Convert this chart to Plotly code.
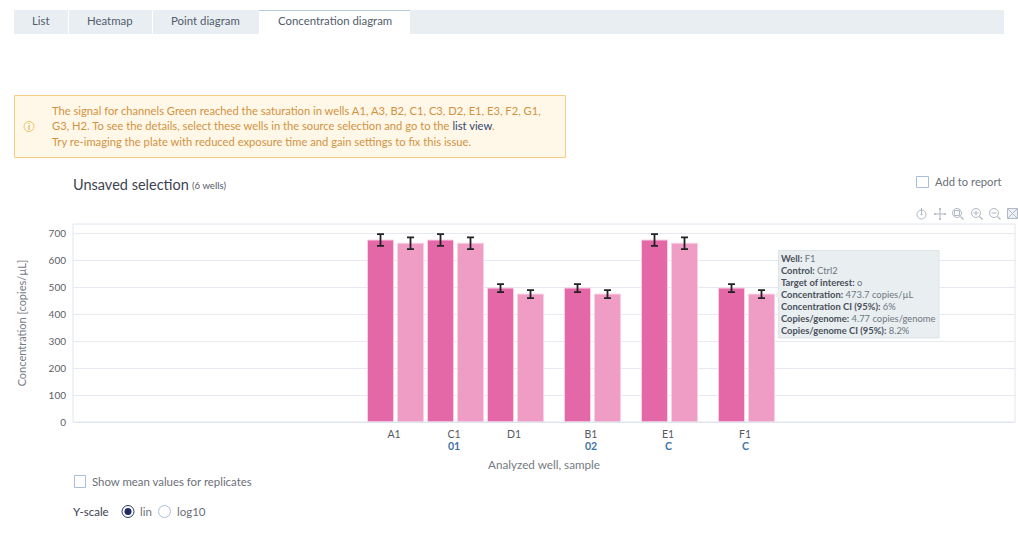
import plotly.graph_objects as go

# ---- data ----
wells = ["A1", "C1", "D1", "B1", "E1", "F1"]
samples = ["", "01", "", "02", "C", "C"]
dark_values = [674, 674, 496, 496, 674, 496]
light_values = [662, 662, 473.7, 473.7, 662, 473.7]
dark_errors = [22, 22, 15, 15, 22, 15]
light_errors = [22, 22, 15, 15, 22, 15]
y_ticks = [0, 100, 200, 300, 400, 500, 600, 700]
# step between neighbouring wells, in px (first three are packed, the others are separated)
well_steps = [0, 60, 60, 77, 77, 77]

W, H = 1018, 534
FONT = "Lato"
DARK, LIGHT = "#E468A8", "#EF9DC4"
EDGE = "#F9CFE2"
GRID = "#E6E8F3"
TXT = "#6B7078"
BLUE = "#3F73A8"
L, R, T, B = 73, 1015, 224, 422
X0 = 395

def fx(x): return x / W
def fy(y): return 1 - y / H

centers = []
c = X0
for s in well_steps:
    c += s
    centers.append(c)
label_pos = [c - 1 for c in centers]

fig = go.Figure()
fig.add_bar(x=centers, y=dark_values, name="Channel 1", width=26, offset=-27.5,
            marker=dict(color=DARK, line=dict(color=EDGE, width=1)),
            error_y=dict(type="data", array=dark_errors, color="#222222", thickness=1.8, width=3.5))
fig.add_bar(x=centers, y=light_values, name="Channel 2", width=26, offset=2.5,
            marker=dict(color=LIGHT, line=dict(color=EDGE, width=1)),
            error_y=dict(type="data", array=light_errors, color="#222222", thickness=1.8, width=3.5))

shapes = []
annos = []

def rect(x0, y0, x1, y1, fill="rgba(0,0,0,0)", line=None, lw=1):
    shapes.append(dict(type="rect", xref="paper", yref="paper", x0=fx(x0), x1=fx(x1), y0=fy(y1), y1=fy(y0),
                       fillcolor=fill, line=dict(color=line or "rgba(0,0,0,0)", width=lw if line else 0),
                       layer="above"))

def circle(cx, cy, r, fill="rgba(0,0,0,0)", line=None, lw=1):
    shapes.append(dict(type="circle", xref="paper", yref="paper", x0=fx(cx - r), x1=fx(cx + r), y0=fy(cy + r), y1=fy(cy - r),
                       fillcolor=fill, line=dict(color=line or "rgba(0,0,0,0)", width=lw if line else 0),
                       layer="above"))

def seg(x0, y0, x1, y1, color="#AEB6C2", lw=1):
    shapes.append(dict(type="line", xref="paper", yref="paper", x0=fx(x0), x1=fx(x1), y0=fy(y0), y1=fy(y1),
                       line=dict(color=color, width=lw), layer="above"))

def text(x, y, s, size=11, color=TXT, anchor="left", angle=0):
    annos.append(dict(xref="paper", yref="paper", x=fx(x), y=fy(y), text=s, showarrow=False, xanchor=anchor,
                      yanchor="middle", font=dict(family=FONT, size=size, color=color), textangle=angle,
                      borderpad=0, borderwidth=0))

# sample names under the well ticks, placed through the x axis
for pos, s in zip(label_pos, samples):
    if s:
        annos.append(dict(xref="x", yref="paper", x=pos, y=fy(446), text=f"<b>{s}</b>", showarrow=False,
                          xanchor="center", yanchor="middle", borderpad=0,
                          font=dict(family=FONT, size=10.5, color=BLUE)))

# tabs
TAB = "#E9EEF3"
rect(14, 10, 1004, 34, fill=TAB)
rect(68, 10, 69, 34, fill="#FFFFFF")
rect(152, 10, 153, 34, fill="#FFFFFF")
rect(259, 10, 410, 34, fill="#FFFFFF")
rect(259, 10, 410, 11, fill="#B4C9DA")
text(41, 20.5, "List", color="#525C6B", anchor="center", size=11.4)
text(110, 20.5, "Heatmap", color="#525C6B", anchor="center", size=11.4)
text(205, 20.5, "Point diagram", color="#525C6B", anchor="center", size=11.4)
text(334.5, 20.5, "Concentration diagram", color="#525C6B", anchor="center", size=11.4)

# warning
WARN = "#D2923F"
rect(14.5, 95.5, 565.5, 157.5, fill="#FFF8E9", line="#F5CE85", lw=1)
circle(29, 126.5, 5, line="#F0C066", lw=1)
seg(29, 125, 29, 130, color="#E0A040", lw=1)
seg(29, 123, 29, 124, color="#E0A040", lw=1)
text(52, 110.5, "The signal for channels Green reached the saturation in wells A1, A3, B2, C1, C3, D2, E1, E3, F2, G1,", color=WARN, size=11.2)
text(52, 125.5, f"G3, H2. To see the details, select these wells in the source selection and go to the <span style='color:#34466E'>list view</span>.", color=WARN, size=11.2)
text(52, 141, "Try re-imaging the plate with reduced exposure time and gain settings to fix this issue.", color=WARN, size=11.2)

# heading
text(73, 184.5, "Unsaved selection", size=14.5, color="#3C4350")
text(192, 185.5, "(6 wells)", size=9.6, color="#555B66")
rect(916.5, 176.5, 928.5, 187.5, fill="#FFFFFF", line="#A9BEDD", lw=1)
text(935, 182, "Add to report", size=11.2, color=TXT)

# toolbar icons
IC = "#B0B8C4"
circle(921.5, 214.5, 4.5, line=IC)
seg(921.5, 208, 921.5, 214, color=IC)
circle(921.5, 214.5, 1, fill=IC)
seg(934, 214, 946, 214, color=IC)
seg(940, 208, 940, 220, color=IC)
for dx, dy in [(-5, 0), (5, 0), (0, -5), (0, 5)]:
    circle(940 + dx, 214 + dy, 1, fill=IC)
circle(957, 213, 4.5, line=IC)
rect(954.5, 210.5, 959.5, 215.5, line=IC)
seg(960.5, 216.5, 963.5, 219.5, color=IC, lw=1.3)
circle(976, 213, 4.5, line=IC)
seg(973.5, 213, 978.5, 213, color=IC)
seg(976, 210.5, 976, 215.5, color=IC)
seg(979.5, 216.5, 982.5, 219.5, color=IC, lw=1.3)
circle(994, 213, 4.5, line=IC)
seg(991.5, 213, 996.5, 213, color=IC)
seg(997.5, 216.5, 1000.5, 219.5, color=IC, lw=1.3)
rect(1007.5, 208.5, 1017.5, 218.5, fill="#EDF0F4", line=IC)
seg(1008, 209, 1017, 218, color=IC)
seg(1017, 209, 1008, 218, color=IC)

# tooltip
TT = "#E9EEF1"
rect(778.5, 250.5, 939, 338, fill=TT, line="#DDE3E6", lw=1)
shapes.append(dict(type="path", xref="paper", yref="paper",
                   path=f"M {fx(779)} {fy(290)} L {fx(775)} {fy(295)} L {fx(779)} {fy(300)} Z",
                   fillcolor=TT, line=dict(width=0), layer="above"))
tt_lines = [("Well:", "F1"), ("Control:", "Ctrl2"), ("Target of interest:", "o"),
            ("Concentration:", "473.7 copies/µL"), ("Concentration CI (95%):", "6%"),
            ("Copies/genome:", "4.77 copies/genome"), ("Copies/genome CI (95%):", "8.2%")]
for i, (k, v) in enumerate(tt_lines):
    text(781, 258 + i * 12, f"<b>{k}</b> <span style='color:#6E7681'>{v}</span>", size=9.4, color="#4A505A")

# bottom controls
text(544, 463.5, "Analyzed well, sample", size=11.7, color="#747A82", anchor="center")
rect(74.5, 475.5, 85.5, 487.5, fill="#FFFFFF", line="#A9BEDD", lw=1)
text(92, 481, "Show mean values for replicates", size=11.4, color=TXT)
text(73, 511.5, "Y-scale", size=11.5, color="#3C4350")
circle(128, 511.5, 6, line="#2B3A67", lw=1)
circle(128, 511.5, 3.5, fill="#1C2C63")
text(140, 511.5, "lin", size=11.5, color=TXT)
circle(164.5, 511.5, 6, line="#A9BEDD", lw=1)
text(177, 511.5, "log10", size=11.5, color=TXT)

# plot frame
rect(L, T, R, B, line="#E3E6F2", lw=1)

fig.update_layout(
    width=W, height=H, margin=dict(l=0, r=0, t=0, b=0, pad=0, autoexpand=False), autosize=False,
    paper_bgcolor="#FFFFFF", plot_bgcolor="#FFFFFF",
    font=dict(family=FONT, size=11, color=TXT),
    showlegend=False, barmode="overlay", shapes=shapes, annotations=annos,
    xaxis=dict(domain=[L / W, R / W], range=[L, R], tickmode="array", tickvals=label_pos, ticktext=wells,
               automargin=False, showgrid=False, zeroline=False, showline=False,
               ticks="outside", ticklen=2, tickcolor="rgba(0,0,0,0)",
               tickfont=dict(size=10.5, color="#55595F"), fixedrange=True),
    yaxis=dict(domain=[1 - B / H, 1 - T / H], range=[0, (B - T) / 0.27], tickmode="array", tickvals=y_ticks,
               automargin=False, showgrid=True, gridcolor=GRID, gridwidth=1, zeroline=True, zerolinecolor="#DDE3EE", zerolinewidth=1,
               ticks="outside", ticklen=4, tickcolor="rgba(0,0,0,0)",
               tickfont=dict(size=10, color="#5B6068"), fixedrange=True,
               title=dict(text="Concentration [copies/µL]", font=dict(size=11, color="#747A82"), standoff=19)),
)
fig.write_html("out.html", config=dict(displayModeBar=False),
               post_script="document.body.style.margin='0';document.documentElement.style.overflow='hidden';")
